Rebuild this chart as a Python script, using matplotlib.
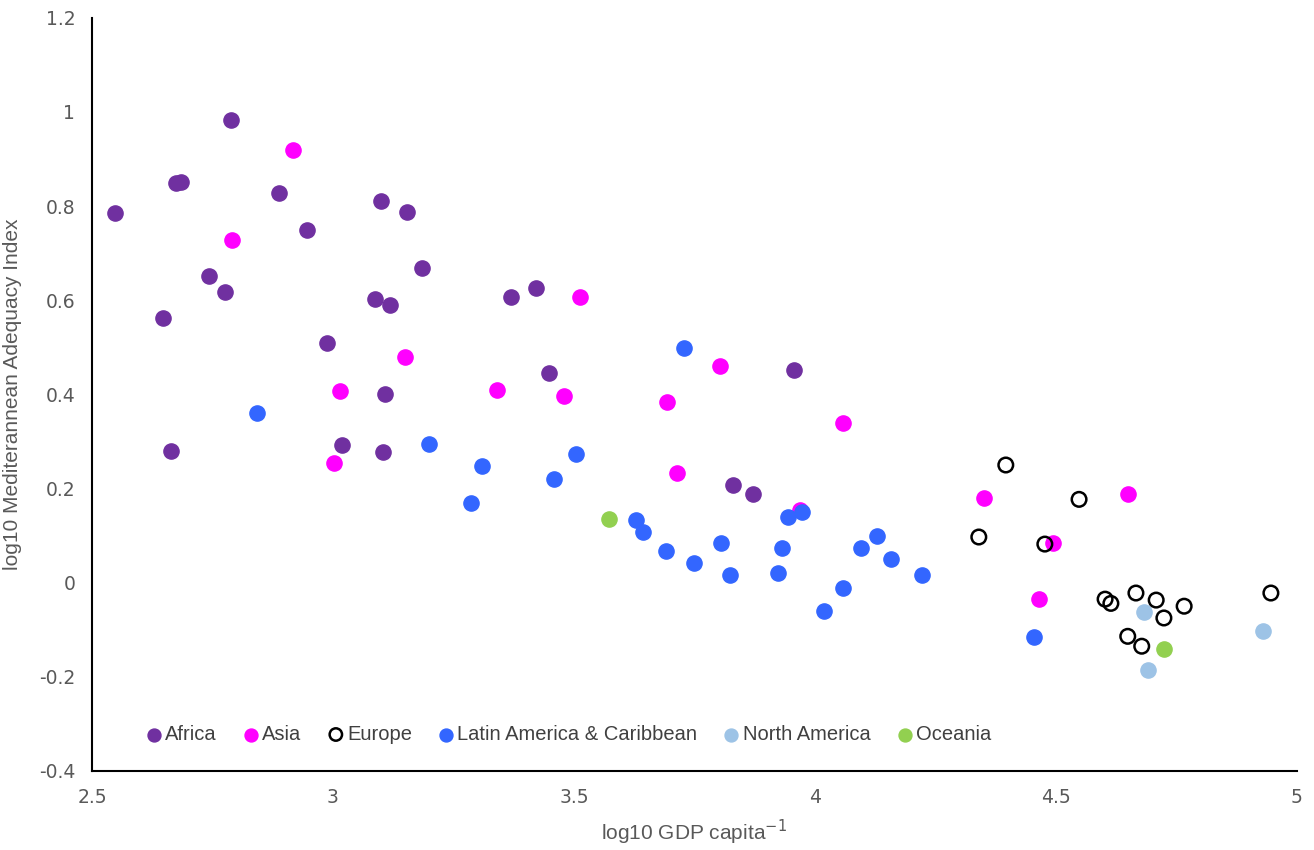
import matplotlib
matplotlib.use("Agg")
import matplotlib.pyplot as plt

# log10 GDP per capita (x) vs log10 Mediterranean adequacy index (y), by region
africa_x = [2.548, 2.674, 2.685, 2.788, 2.888, 2.946, 2.743, 2.776, 2.647, 2.664,
            2.988, 3.019, 3.100, 3.154, 3.087, 3.118, 3.185, 3.108, 3.104, 3.369,
            3.421, 3.448, 3.956, 3.830, 3.871]
africa_y = [0.785, 0.849, 0.851, 0.983, 0.828, 0.749, 0.651, 0.617, 0.562, 0.280,
            0.509, 0.292, 0.811, 0.787, 0.602, 0.590, 0.668, 0.401, 0.277, 0.607,
            0.626, 0.445, 0.452, 0.207, 0.188]

asia_x = [2.917, 2.790, 3.149, 3.015, 3.002, 3.340, 3.479, 3.512, 3.803, 3.693,
          3.714, 4.058, 3.969, 4.351, 4.494, 4.465, 4.650]
asia_y = [0.919, 0.728, 0.479, 0.407, 0.254, 0.409, 0.396, 0.607, 0.460, 0.384,
          0.233, 0.339, 0.154, 0.180, 0.084, -0.035, 0.188]

europe_x = [4.396, 4.340, 4.548, 4.477, 4.602, 4.614, 4.666, 4.708, 4.724, 4.766,
            4.649, 4.678, 4.946]
europe_y = [0.250, 0.097, 0.177, 0.082, -0.035, -0.044, -0.022, -0.037, -0.075, -0.050,
            -0.114, -0.135, -0.022]

latam_x = [2.842, 3.199, 3.309, 3.286, 3.459, 3.504, 3.728, 3.629, 3.643, 3.691,
           3.749, 3.824, 3.805, 3.932, 3.923, 3.944, 3.973, 4.019, 4.058, 4.095,
           4.129, 4.158, 4.222, 4.454]
latam_y = [0.360, 0.294, 0.248, 0.169, 0.220, 0.273, 0.498, 0.133, 0.107, 0.067,
           0.041, 0.016, 0.084, 0.073, 0.020, 0.139, 0.150, -0.061, -0.012, 0.073,
           0.099, 0.050, 0.016, -0.116]

namerica_x = [4.683, 4.691, 4.929]
namerica_y = [-0.063, -0.186, -0.103]

oceania_x = [3.573, 4.724]
oceania_y = [0.135, -0.141]

plt.rcParams['font.family'] = ['Liberation Sans', 'DejaVu Sans']

fig = plt.figure(figsize=(13.14, 8.5), dpi=100)
ax = fig.add_axes([0.070, 0.093, 0.917, 0.886])

size = 120
ax.scatter(africa_x, africa_y, s=size, color='#7030A0', label='Africa', zorder=3)
ax.scatter(asia_x, asia_y, s=size, color='#FF00FF', label='Asia', zorder=3)
ax.scatter(europe_x, europe_y, s=110, facecolors='none', edgecolors='black',
           linewidths=1.8, label='Europe', zorder=4)
ax.scatter(latam_x, latam_y, s=size, color='#3366FF', label='Latin America & Caribbean', zorder=3)
ax.scatter(namerica_x, namerica_y, s=size, color='#9DC3E6', label='North America', zorder=3)
ax.scatter(oceania_x, oceania_y, s=size, color='#92D050', label='Oceania', zorder=3)

ax.set_xlim(2.5, 5)
ax.set_ylim(-0.4, 1.2)
ax.set_xticks([2.5, 3, 3.5, 4, 4.5, 5])
ax.set_xticklabels(['2.5', '3', '3.5', '4', '4.5', '5'])
ax.set_yticks([-0.4, -0.2, 0, 0.2, 0.4, 0.6, 0.8, 1, 1.2])
ax.set_yticklabels(['-0.4', '-0.2', '0', '0.2', '0.4', '0.6', '0.8', '1', '1.2'])
ax.tick_params(length=0, labelcolor='#595959', pad=12)
for lab in ax.get_yticklabels() + ax.get_xticklabels():
    lab.set_family('DejaVu Sans')
    lab.set_fontsize(13.5)

for side in ['top', 'right']:
    ax.spines[side].set_visible(False)
for side in ['left', 'bottom']:
    ax.spines[side].set_linewidth(1.5)
    ax.spines[side].set_color('black')

ax.set_xlabel('log10 GDP capita$^{-1}$', fontsize=15, color='#595959', labelpad=8)
ax.set_ylabel('log10 Mediterannean Adequacy Index', fontsize=15, color='#595959', labelpad=12)

leg = ax.legend(loc='lower left', bbox_to_anchor=(0.02, 0.012), ncol=6, frameon=False,
                fontsize=14.5, handletextpad=-0.45, columnspacing=0.7, markerscale=0.85,
                labelcolor='#404040')

fig.savefig('out.png', dpi=100)
